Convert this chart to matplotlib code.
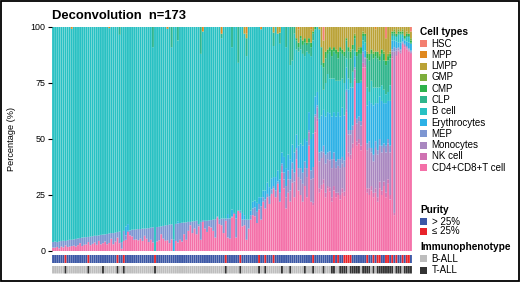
import numpy as np
import matplotlib
matplotlib.use("Agg")
import matplotlib.pyplot as plt
from matplotlib.patches import Rectangle

plt.rcParams['font.family'] = ['Liberation Sans', 'DejaVu Sans']

N = 173
cell_types = ["HSC", "MPP", "LMPP", "GMP", "CMP", "CLP", "B cell", "Erythrocytes",
              "MEP", "Monocytes", "NK cell", "CD4+CD8+T cell"]
colors = {"HSC": "#F37F70", "MPP": "#E0891F", "LMPP": "#BAA236", "GMP": "#7DAE3C",
          "CMP": "#2DB24B", "CLP": "#2FB58C", "B cell": "#28C1C3", "Erythrocytes": "#2CB1E6",
          "MEP": "#7D96D2", "Monocytes": "#A987C0", "NK cell": "#CF72B2",
          "CD4+CD8+T cell": "#F470A8"}

t_cell = [1.5, 1.5, 1.8, 1.2, 2.0, 1.6, 2.5, 1.8, 2.0, 2.2,
          2.4, 2.0, 2.6, 3.5, 2.2, 2.8, 3.0, 4.0, 2.6, 3.2,
          3.8, 2.8, 4.5, 3.0, 3.5, 4.2, 3.0, 3.6, 5.5, 3.0,
          4.2, 6.0, 3.5, 1.0, 4.5, 5.0, 8.5, 7.0, 6.5, 5.0,
          5.2, 4.8, 5.5, 4.5, 6.8, 5.5, 4.0, 5.0, 3.8, 0.0,
          4.2, 4.8, 7.5, 5.5, 4.6, 4.8, 3.5, 5.2, 0.0, 4.5,
          3.8, 5.0, 4.2, 7.5, 5.0, 9.0, 11.5, 8.0, 10.0, 7.5,
          11.0, 5.0, 13.0, 10.0, 8.5, 11.0, 10.5, 9.0, 6.0, 15.0,
          12.0, 11.5, 8.0, 13.5, 6.0, 5.5, 15.0, 16.5, 6.0, 18.0,
          17.0, 11.0, 11.5, 5.0, 10.0, 14.0, 16.0, 15.5, 12.5, 18.5,
          14.0, 22.0, 19.0, 24.0, 21.0, 25.5, 28.0, 24.0, 30.0, 22.0,
          35.0, 28.0, 19.0, 26.0, 22.0, 30.5, 24.0, 41.0, 27.0, 25.0,
          22.0, 29.0, 24.0, 47.0, 22.0, 20.5, 53.0, 58.0, 26.0, 27.5,
          30.0, 24.0, 28.0, 26.5, 22.0, 27.0, 24.0, 25.0, 23.0, 26.0,
          24.5, 62.0, 42.0, 41.0, 46.0, 76.0, 47.0, 48.0, 45.0, 82.0,
          82.0, 26.0, 25.0, 27.0, 24.0, 26.0, 22.0, 28.0, 25.0, 29.0,
          24.0, 30.0, 23.0, 86.0, 16.0, 87.0, 89.0, 88.0, 92.0, 91.0,
          90.0, 89.0, 88.0]

nk_cell = [0] * 125 + [1, 1, 1, 2, 2, 2, 2, 1, 2, 2,
                       2, 2, 1, 2, 2, 2, 1, 2, 2, 2,
                       1, 2, 2, 2, 2, 1, 2, 3, 2, 2,
                       2, 2, 3, 2, 2, 2, 2, 2, 1, 1,
                       0.5, 0.5, 0.5, 0.5, 0.5, 0.5, 0.5, 0.5]

monocytes = [0] * 110 + [3, 4, 5, 6, 5, 6, 7, 4, 6, 7,
                         8, 8, 9, 6, 10, 11, 6, 5, 12, 12,
                         12, 13, 12, 12, 13, 12, 11, 12, 12, 11,
                         11, 8, 8, 9, 6, 4, 8, 8, 9, 4,
                         3, 17, 18, 15, 14, 18, 19, 16, 17, 15,
                         18, 16, 19, 2, 72, 2, 1, 1, 0.5, 0.5,
                         0.5, 0.5, 0.5]

mep = [2.5, 2.7, 2.2, 3.1, 2.5, 3.0, 2.0, 3.0, 3.0, 2.8,
       2.8, 3.4, 3.0, 2.3, 3.8, 3.3, 3.2, 2.3, 3.8, 3.4,
       3.0, 4.0, 2.5, 4.2, 3.8, 3.2, 4.6, 4.2, 2.5, 5.0,
       4.0, 2.5, 5.2, 3.0, 4.5, 2.0, 0.5, 2.2, 3.0, 4.5,
       4.5, 5.0, 4.3, 5.5, 3.2, 4.6, 6.2, 5.4, 6.8, 0.0,
       6.5, 6.0, 3.5, 5.7, 6.8, 6.8, 8.3, 6.7, 0.0, 7.6,
       8.5, 7.5, 8.4, 5.2, 7.8, 4.0, 1.5, 5.2, 3.3, 6.0,
       1.0, 8.0, 0.8, 3.5, 5.0, 2.7, 3.3, 5.0, 8.2, 0.5,
       2.2, 3.0, 6.5, 1.0, 8.5, 9.0, 0.5, 0.5, 8.5, 0.0,
       1.0, 3.0, 2.5, 9.0, 4.0, 2.0, 3.0, 4.0, 5.0, 2.5,
       6.0, 2.0, 4.0, 1.5, 3.5, 2.0, 1.0, 3.0, 1.0, 4.0,
       1.0, 3.0, 5.0, 4.0, 5.0, 3.0, 4.0, 1.0, 4.0, 5.0,
       5.0, 3.0, 4.0, 1.0, 4.0, 5.0, 1.0, 1.0, 4.0, 3.0,
       3.0, 4.0, 3.0, 4.0, 4.0, 3.0, 3.0, 3.0, 4.0, 3.0,
       3.0, 1.0, 2.0, 2.0, 2.0, 1.0, 2.0, 2.0, 2.0, 1.0,
       0.5, 3.0, 3.0, 2.0, 3.0, 3.0, 2.0, 3.0, 3.0, 2.0,
       3.0, 2.0, 3.0, 1.0, 2.0, 1.0, 0.5, 0.5, 0.5, 0.5,
       0.5, 0.5, 0.5]

erythro_left = {35: 4, 36: 3, 58: 5, 60: 1, 84: 2, 86: 3, 88: 2, 91: 3, 92: 2}
erythro_right = [2, 3, 3, 4, 3,
                 4, 3, 4, 5, 4, 5, 4, 6, 5, 6,
                 5, 7, 8, 7, 9, 8, 9, 6, 10, 11,
                 12, 10, 12, 8, 14, 15, 8, 6, 15, 16,
                 16, 17, 18, 17, 19, 18, 20, 21, 19, 22,
                 20, 10, 18, 19, 17, 5, 16, 15, 17, 3,
                 3, 17, 18, 20, 22, 17, 21, 19, 20, 18,
                 19, 17, 20, 4, 3, 3, 2, 3, 2, 1.5,
                 2, 2.5, 3]

clp_left = {32: 3.5, 48: 9, 57: 9, 60: 6, 71: 12, 81: 2, 86: 9, 89: 16, 93: 8,
            106: 6, 109: 5, 112: 9, 114: 17, 115: 15}
clp_right = [3, 4, 2, 5,
             4, 6, 3, 5, 4, 3, 0, 0, 0, 8,
             10, 11, 9, 12, 10, 12, 12, 10, 13, 11,
             12, 8, 12, 11, 10, 6, 12, 13, 12, 2,
             3, 13, 14, 12, 13, 14, 13, 12, 14, 13,
             13, 14, 12, 1, 1, 0.5, 0.5, 0.5, 0.5, 0.5,
             0.5, 0.5, 0.5]

cmp_right = [1, 2, 1,
             2, 2, 1, 2, 2, 1, 1, 0, 0, 0,
             2, 3, 2, 2, 3, 2, 2, 3, 2, 2,
             2, 1, 2, 3, 2, 1, 2, 2, 3, 1,
             1, 2, 3, 2, 2, 2, 3, 2, 2, 3,
             2, 2, 2, 1, 1, 1, 1, 1, 1, 1,
             1, 1, 1]

gmp_right = [0, 0, 0, 1, 0, 1, 0, 1, 0, 1,
             0, 1, 0, 0, 1, 0, 0, 1, 0, 1,
             0, 1, 1, 0, 1, 0, 1, 0, 1, 0,
             1, 0, 1]

lmpp_left = {92: 3, 93: 2, 106: 2.5, 108: 3, 109: 2.5}
lmpp_right = [5, 6, 4,
              6, 5, 7, 5, 6, 2, 0, 0, 1, 9,
              10, 11, 10, 9, 10, 9, 10, 11, 9, 10,
              11, 5, 9, 10, 8, 3, 11, 10, 9, 2,
              3, 11, 12, 10, 11, 10, 11, 12, 10, 11,
              10, 12, 11, 2, 1, 3, 1, 2, 1, 4,
              2, 3, 3]

mpp_vals = {9: 0.8, 27: 0.5, 55: 0.8, 72: 2, 81: 3, 93: 3, 100: 1, 118: 1, 124: 1,
            146: 1, 155: 1}
hsc_vals = {130: 6, 160: 5, 172: 3}

low_purity_idx = [6, 17, 31, 34, 49, 83, 90, 99, 102, 106, 125, 135, 137, 140, 141,
                  142, 143, 151, 154, 156, 157, 160, 161, 163, 165, 168, 170, 171]
tall_idx = [6, 17, 24, 31, 34, 49, 83, 90, 99, 102, 110, 114, 121, 125, 130, 134, 135,
            138, 139, 140, 141, 143, 144, 145, 146, 147, 149, 150, 151, 152, 154, 156,
            157, 158, 159, 160, 161, 162, 163, 165, 166, 167, 169, 170, 171, 172]


def from_sparse(d):
    a = np.zeros(N)
    for k, v in d.items():
        a[k] = v
    return a


def from_tail(vals, extra=None):
    a = np.zeros(N)
    a[N - len(vals):] = vals
    if extra:
        for k, v in extra.items():
            a[k] = v
    return a


data = {
    "CD4+CD8+T cell": np.array(t_cell, float),
    "NK cell": np.array(nk_cell, float),
    "Monocytes": np.array(monocytes, float),
    "MEP": np.array(mep, float),
    "Erythrocytes": from_tail(erythro_right, erythro_left),
    "CLP": from_tail(clp_right, clp_left),
    "CMP": from_tail(cmp_right),
    "GMP": from_tail(gmp_right),
    "LMPP": from_tail(lmpp_right, lmpp_left),
    "MPP": from_sparse(mpp_vals),
    "HSC": from_sparse(hsc_vals),
}
others = sum(data.values())
data["B cell"] = np.clip(100 - others, 0, None)

stack_order = ["CD4+CD8+T cell", "NK cell", "Monocytes", "MEP", "Erythrocytes", "B cell",
               "CLP", "CMP", "GMP", "LMPP", "MPP", "HSC"]

W, H = 520, 283
fig = plt.figure(figsize=(W / 100, H / 100), dpi=100)


def fx(p):
    return p / W


def fy(p):
    return 1 - p / H


BW = 0.9
x = np.arange(N)
ax = fig.add_axes([fx(52), fy(251), fx(412) - fx(52), fy(27) - fy(251)])
bottom = np.zeros(N)
for name in stack_order:
    bars = ax.bar(x, data[name], bottom=bottom, width=BW, color=colors[name], linewidth=0)
    for b in bars:
        b.set_snap(False)
    bottom += data[name]
ax.set_xlim(-0.5, N - 0.5)
ax.set_ylim(0, 100)
for s in ax.spines.values():
    s.set_visible(False)
ax.set_xticks([])
ax.set_yticks([0, 25, 50, 75, 100])
ax.tick_params(axis='y', length=3, width=0.8, labelsize=6.4, pad=1.5, colors='black')
fig.text(fx(12), fy(139), "Percentage (%)", rotation=90, fontsize=6.6,
         ha='center', va='center')

fig.text(fx(52.5), fy(19), "Deconvolution  n=173", fontsize=9.4, fontweight='bold',
         ha='left', va='baseline')

# annotation tracks
purity_cols = ["#E8232B" if i in low_purity_idx else "#3B57A6" for i in range(N)]
immuno_cols = ["#333333" if i in tall_idx else "#BDBDBD" for i in range(N)]
ax_p = fig.add_axes([fx(52), fy(263), fx(412) - fx(52), fy(255) - fy(263)])
pb = ax_p.bar(x, np.ones(N), width=BW, color=purity_cols, linewidth=0)
ax_i = fig.add_axes([fx(52), fy(273.5), fx(412) - fx(52), fy(266) - fy(273.5)])
ib = ax_i.bar(x, np.ones(N), width=BW, color=immuno_cols, linewidth=0)
for b in list(pb) + list(ib):
    b.set_snap(False)
for a in (ax_p, ax_i):
    a.set_xlim(-0.5, N - 0.5)
    a.set_ylim(0, 1)
    a.axis('off')

# legends
sq = 7
lx = 420
tx = 431.5


def legend_item(cy, color, label):
    fig.patches.append(Rectangle((fx(lx), fy(cy + sq / 2)), sq / W, sq / H,
                                 transform=fig.transFigure, facecolor=color,
                                 edgecolor='none'))
    fig.text(fx(tx), fy(cy), label, fontsize=7.0, ha='left', va='center')


fig.text(fx(420), fy(35), "Cell types", fontsize=7.3, fontweight='bold',
         ha='left', va='baseline')
for k, name in enumerate(cell_types):
    legend_item(43.6 + 11.28 * k, colors[name], name)

fig.text(fx(420), fy(213), "Purity", fontsize=7.3, fontweight='bold',
         ha='left', va='baseline')
legend_item(221.7, "#3B57A6", "> 25%")
legend_item(231.2, "#E8232B", "≤ 25%")

fig.text(fx(420), fy(249.5), "Immunophenotype", fontsize=7.3, fontweight='bold',
         ha='left', va='baseline')
legend_item(258.6, "#BDBDBD", "B-ALL")
legend_item(270.2, "#333333", "T-ALL")

# outer frame
fig.patches.append(Rectangle((0.6 / W, 2.2 / H), (W - 1.8) / W, (H - 2.8) / H,
                             transform=fig.transFigure, facecolor='none',
                             edgecolor='black', linewidth=1.3))

fig.savefig("out.png", dpi=100)
